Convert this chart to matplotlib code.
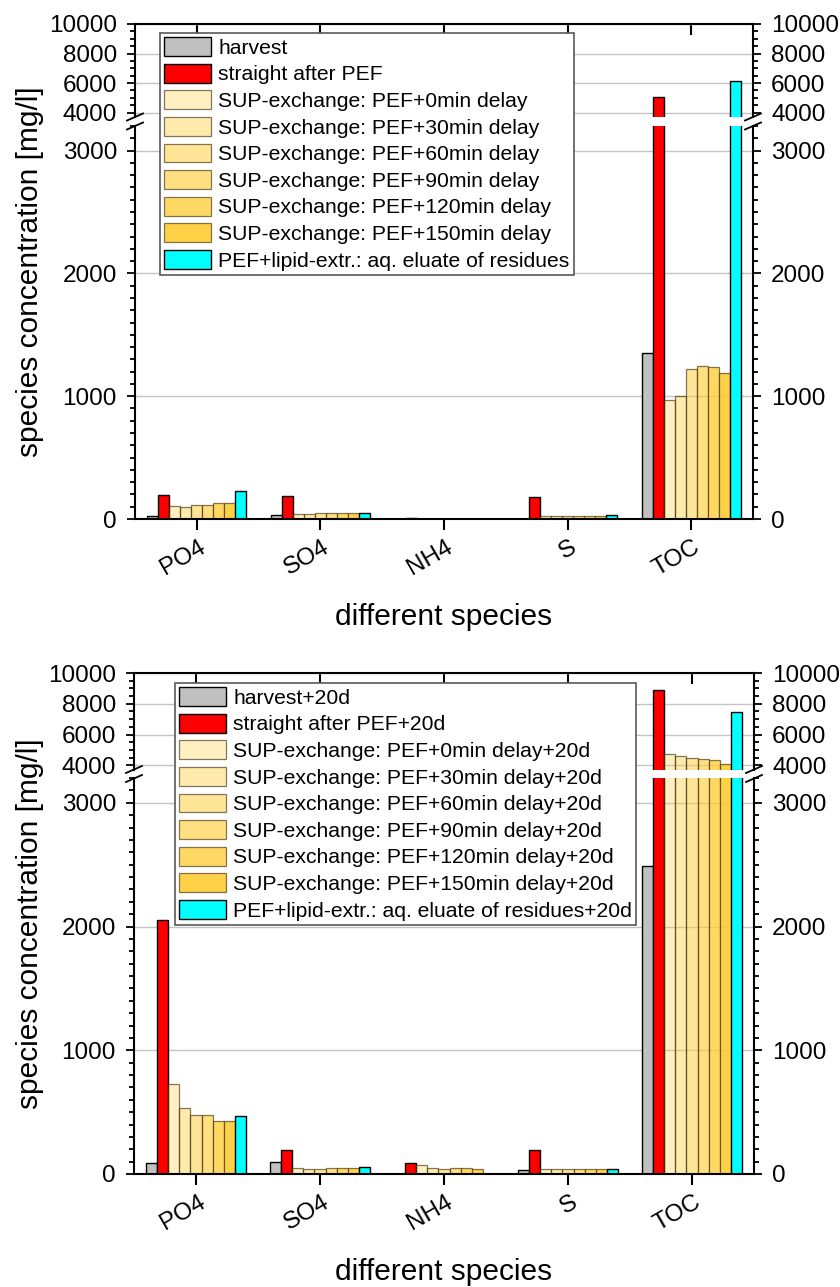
import numpy as np
import matplotlib
matplotlib.use('Agg')
import matplotlib.pyplot as plt
import matplotlib.transforms as mtrans
from matplotlib.ticker import MultipleLocator, FixedLocator, NullFormatter
from matplotlib.lines import Line2D

plt.rcParams['font.family'] = ['Liberation Sans', 'DejaVu Sans']

SPECIES = ['PO4', 'SO4', 'NH4', 'S', 'TOC']
DELAYS = [0, 30, 60, 90, 120, 150]

# fresh samples (top panel)
harvest = [27, 33, 0, 3, 1355]
straight = [195, 190, 6, 179, 5050]
sup0 = [108, 43, 0, 22, 965]
sup30 = [100, 41, 0, 22, 1003]
sup60 = [114, 46, 0, 23, 1220]
sup90 = [114, 46, 0, 23, 1249]
sup120 = [127, 46, 0, 23, 1241]
sup150 = [127, 46, 0, 23, 1187]
lipid = [228, 51, 0, 33, 6110]

# samples after 20 days (bottom panel)
harvest_20 = [86, 97, 0, 32, 2490]
straight_20 = [2055, 196, 89, 194, 8920]
sup0_20 = [731, 46, 70, 43, 4720]
sup30_20 = [530, 43, 51, 43, 4630]
sup60_20 = [476, 43, 43, 43, 4500]
sup90_20 = [476, 46, 51, 43, 4440]
sup120_20 = [427, 46, 51, 43, 4370]
sup150_20 = [427, 48, 38, 43, 4110]
lipid_20 = [468, 54, 0, 40, 7480]

GRAY = '#C0C0C0'
RED = '#FF0000'
CYAN = '#00FFFF'
GOLD = (1.0, 0.80, 0.20)
GOLD_ALPHA = [0.30, 0.40, 0.50, 0.62, 0.76, 0.90]
GRID = '#C4C4C4'
TICK_FS = 17.5
LABEL_FS = 21.5
LEG_FS = 15.2
W, H = 840, 1287


def bar_styles():
    st = [dict(fc=GRAY, ec='k', lw=1.0), dict(fc=RED, ec='k', lw=1.0)]
    for a in GOLD_ALPHA:
        st.append(dict(fc=GOLD + (a,), ec=(0.25, 0.2, 0.05, 0.65), lw=0.9))
    st.append(dict(fc=CYAN, ec='k', lw=1.0))
    return st


def fx(px):
    return px / W


def fy(py):
    return 1 - py / H


def panel(fig, series, labels, x0, x1, ybot, ybrk_lo, ybrk_hi, ytop, leg_box):
    axb = fig.add_axes([fx(x0), fy(ybot), fx(x1 - x0), (ybot - ybrk_lo) / H])
    axt = fig.add_axes([fx(x0), fy(ybrk_hi), fx(x1 - x0), (ybrk_hi - ytop) / H])
    x = np.arange(1, len(SPECIES) + 1)
    n = len(series)
    bw = 0.8 / n
    handles = []
    for i, (vals, st) in enumerate(zip(series, bar_styles())):
        off = (i - (n - 1) / 2) * bw
        for ax in (axb, axt):
            b = ax.bar(x + off, vals, bw, color=st['fc'], edgecolor=st['ec'],
                       linewidth=st['lw'], zorder=2)
        handles.append(b)
    axb.set_ylim(0, 3200)
    axt.set_ylim(3700, 10000)
    for ax in (axb, axt):
        ax.set_xlim(0.5, 5.5)
        ax.yaxis.grid(True, color=GRID, lw=1.0, zorder=0)
        ax.set_axisbelow(True)
        for s in ax.spines.values():
            s.set_linewidth(1.5)
        ax.tick_params(axis='y', which='both', direction='out', left=True, right=True,
                       labelleft=True, labelright=True, labelsize=TICK_FS, width=1.3, pad=7)
        ax.tick_params(axis='y', which='major', length=6)
        ax.tick_params(axis='y', which='minor', length=3.5)
    axb.yaxis.set_major_locator(MultipleLocator(1000))
    axb.yaxis.set_minor_locator(MultipleLocator(100))
    axt.yaxis.set_major_locator(FixedLocator([4000, 6000, 8000, 10000]))
    axt.yaxis.set_minor_locator(MultipleLocator(500))
    axb.spines['top'].set_visible(False)
    axt.spines['bottom'].set_visible(False)
    axb.set_xticks(x)
    axb.xaxis.set_major_formatter(NullFormatter())
    axb.tick_params(axis='x', direction='out', length=8, width=1.5)
    axt.set_xticks(x)
    axt.tick_params(axis='x', bottom=False, top=True, labelbottom=False, direction='in',
                    length=8, width=1.5)

    # rotated category names below the ticks
    shift = mtrans.ScaledTranslation(13 / 100, -17 / 100, fig.dpi_scale_trans)
    for xi, name in zip(x, SPECIES):
        axb.text(xi, 0, name, transform=axb.get_xaxis_transform() + shift,
                 rotation=30, ha='right', va='top', fontsize=TICK_FS)

    fig.text(fx((x0 + x1) / 2), fy(ybot + 98), 'different species',
             ha='center', va='center', fontsize=LABEL_FS)

    # break marks on both axes
    ymid = (ybrk_lo + ybrk_hi) / 2
    for xa in (x0, x1):
        for dy in (-4.5, 4.5):
            fig.add_artist(Line2D([fx(xa - 8), fx(xa + 8)],
                                  [fy(ymid + dy + 3.5), fy(ymid + dy - 3.5)],
                                  color='k', lw=1.3, transform=fig.transFigure))

    fig.text(fx(30), fy((ytop + ybot) / 2), 'species concentration [mg/l]',
             rotation=90, ha='center', va='center', fontsize=LABEL_FS)

    lx, ly = leg_box
    leg = fig.legend(handles, labels, loc='upper left', bbox_to_anchor=(fx(lx), fy(ly)),
                     bbox_transform=fig.transFigure, fontsize=LEG_FS, frameon=True,
                     fancybox=False, edgecolor='0.35', framealpha=1, borderpad=0.2,
                     labelspacing=0.28, handlelength=2.2, handleheight=1.0,
                     handletextpad=0.35, borderaxespad=0)
    leg.get_frame().set_linewidth(1.2)
    return axb, axt


fig = plt.figure(figsize=(W / 100, H / 100), dpi=100)

labels1 = ['harvest', 'straight after PEF'] + \
    ['SUP-exchange: PEF+%dmin delay' % d for d in DELAYS] + \
    ['PEF+lipid-extr.: aq. eluate of residues']
labels2 = ['harvest+20d', 'straight after PEF+20d'] + \
    ['SUP-exchange: PEF+%dmin delay+20d' % d for d in DELAYS] + \
    ['PEF+lipid-extr.: aq. eluate of residues+20d']

panel(fig, [harvest, straight, sup0, sup30, sup60, sup90, sup120, sup150, lipid], labels1,
      135, 753, 519, 126, 117, 24, (160, 33))
panel(fig, [harvest_20, straight_20, sup0_20, sup30_20, sup60_20, sup90_20, sup120_20,
            sup150_20, lipid_20], labels2,
      134, 754, 1174, 778, 770, 673, (175, 683))

fig.savefig('out.png', dpi=100, facecolor='white')
